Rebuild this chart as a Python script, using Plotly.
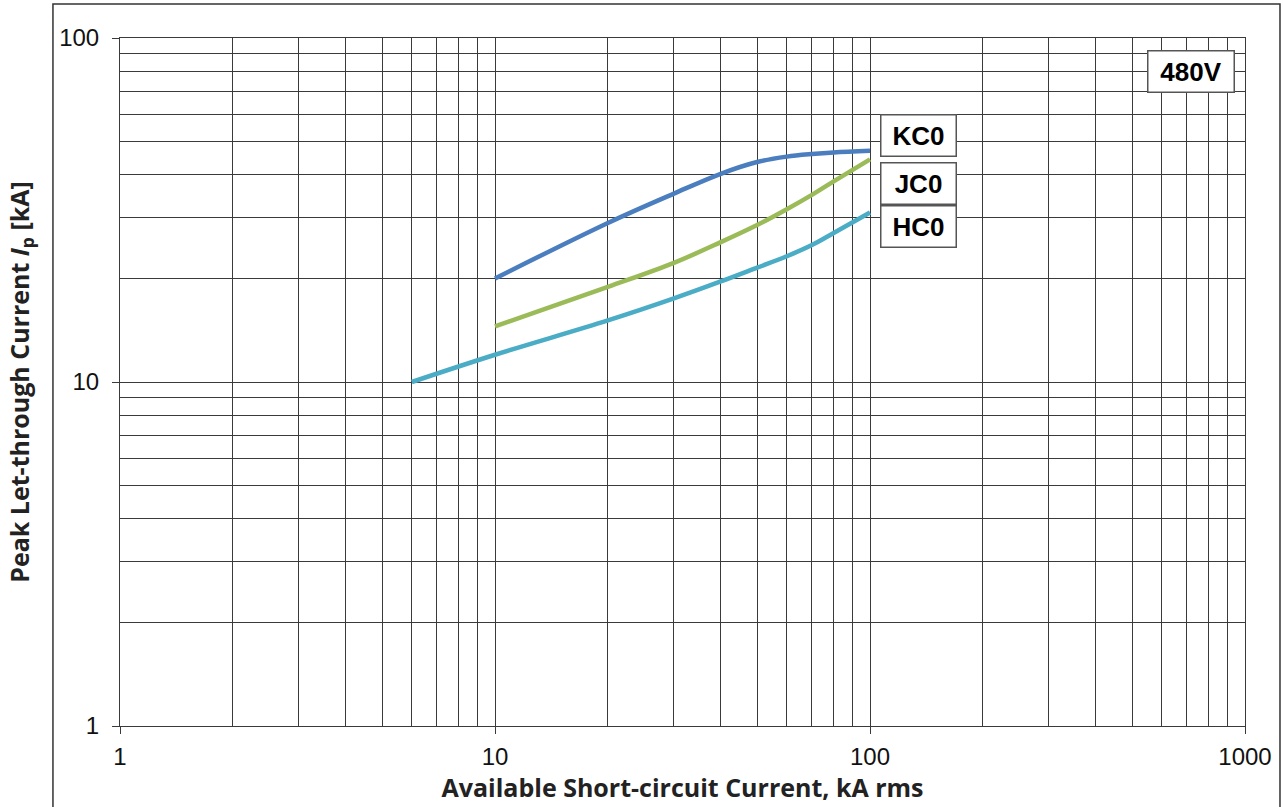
import plotly.graph_objects as go

# Let-through curves (kA)
kc0_x = [10, 20, 30, 40, 50, 60, 70, 80, 100]
kc0_y = [20.0, 29.0, 35.3, 40.3, 43.6, 45.2, 46.0, 46.5, 47.0]

jc0_x = [10, 20, 30, 40, 50, 60, 70, 80, 100]
jc0_y = [14.5, 18.9, 22.2, 25.5, 28.6, 31.8, 35.0, 38.3, 44.4]

hc0_x = [6, 10, 20, 30, 40, 50, 60, 70, 80, 100]
hc0_y = [10.0, 12.0, 15.1, 17.5, 19.6, 21.5, 23.2, 25.0, 27.1, 31.1]

series = [
    ("KC0", kc0_x, kc0_y, "#4a7ebf"),
    ("JC0", jc0_x, jc0_y, "#9bbb59"),
    ("HC0", hc0_x, hc0_y, "#4bacc6"),
]

x_ticks = [1, 10, 100, 1000]
y_ticks = [1, 10, 100]
x_minor = [m * d for d in (1, 10, 100) for m in range(2, 10)]
y_minor = [m * d for d in (1, 10) for m in range(2, 10)]

fig = go.Figure()
for name, xs, ys, color in series:
    fig.add_trace(go.Scatter(x=xs, y=ys, mode="lines", name=name,
                             line=dict(color=color, width=4.5, shape="spline", smoothing=1.0)))

grid = "#3a3a3a"
axis_common = dict(
    type="log", showgrid=True, gridcolor=grid, gridwidth=1,
    showline=True, linecolor=grid, linewidth=1, mirror=True,
    ticks="outside", ticklen=7, tickcolor=grid, tickwidth=1,
    tickfont=dict(family="Liberation Sans, Arial", size=24, color="#111"),
    zeroline=False,
)
title_font = dict(family="Open Sans", size=25, color="#222", weight="bold")

fig.update_xaxes(**axis_common, range=[0, 3], tickvals=x_ticks, ticktext=[str(v) for v in x_ticks],
                 ticklabelstandoff=2,
                 minor=dict(tickvals=x_minor, showgrid=True, gridcolor=grid, gridwidth=1, ticks=""),
                 title=dict(text="<b>Available Short-circuit Current, kA rms</b>", standoff=0,
                            font=title_font))
fig.update_yaxes(**axis_common, range=[0, 2], tickvals=y_ticks, ticktext=[str(v) for v in y_ticks],
                 ticklabelstandoff=8,
                 minor=dict(tickvals=y_minor, showgrid=True, gridcolor=grid, gridwidth=1, ticks=""),
                 title=dict(text="<b>Peak Let-through Current <i>I</i><sub>p</sub> [kA]</b>", standoff=22,
                            font=title_font))

box_font = dict(family="Liberation Sans, Arial", size=26, color="#000", weight="bold")
labels = [("KC0", 0.7102, 0.8576, 72), ("JC0", 0.7102, 0.7878, 72),
          ("HC0", 0.7102, 0.7267, 72), ("480V", 0.9516, 0.9506, 83)]
for text, px, py, w in labels:
    fig.add_annotation(x=px, y=py, xref="paper", yref="paper", text=text, showarrow=False,
                       font=box_font, bgcolor="white", bordercolor="#555", borderwidth=1.5,
                       borderpad=1, width=w, height=38,
                       xanchor="center", yanchor="middle")

# outer frame around the chart
fig.add_shape(type="rect", xref="paper", yref="paper", x0=-0.0596, x1=1.0311, y0=-0.14, y1=1.0494,
              line=dict(color="#333", width=1.5), layer="below")

fig.update_layout(
    width=1283, height=807,
    margin=dict(l=120, r=38, t=38, b=81),
    paper_bgcolor="white", plot_bgcolor="white",
    showlegend=False,
)

# drop the default page margin so the figure sits at the window origin
fig.write_html("out.html", config={"displayModeBar": False},
               post_script="document.body.style.margin='0';")
